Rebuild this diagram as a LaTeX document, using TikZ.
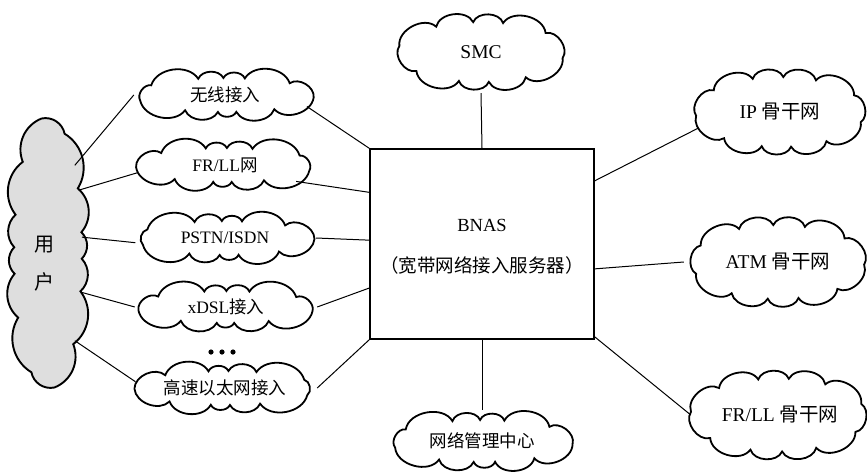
\documentclass[tikz,border=0pt]{standalone}
\usepackage{fontspec}
\setmainfont{Liberation Serif}
\newfontfamily\cjk{Noto Sans CJK SC}
\usetikzlibrary{shapes.geometric,calc}
% \drawcloud{id}{cx}{cy}{outer w}{outer h}{puffs}{inset}{bend}{offset}
\newcommand\drawcloud[9]{%
  \pgfmathsetmacro\cA{#4/2-0.15*#7}%
  \pgfmathsetmacro\cB{#5/2-#7}%
  \pgfmathsetmacro\cK{(\cA-\cB)/(\cA+\cB)}%
  \foreach \i in {0,...,#6}{%
    \pgfmathsetmacro\cU{360*\i/#6+#9}%
    \pgfmathsetmacro\cT{\cU+0.5*\cK*sin(2*\cU)*57.29578}%
    \pgfmathsetmacro\cX{#2+\cA*cos(\cT)}%
    \pgfmathsetmacro\cY{#3+\cB*sin(\cT)}%
    \coordinate (#1-\i) at (\cX,\cY);
  }%
  \path[cloudline,#1style] (#1-0) \foreach \i in {1,...,#6}{ to[bend left=#8] (#1-\i) } -- cycle;
}
\begin{document}
\begin{tikzpicture}[x=1pt,y=-1pt,
  cloudline/.style={draw, line width=1.8pt, line join=miter},
  cloudtext/.style={ellipse, inner sep=0pt, font=\fontsize{17.5}{19}\selectfont},
  bigtext/.style={font=\fontsize{19.5}{21}\selectfont},
  boxnode/.style={draw, line width=1.3pt, minimum width=224pt, minimum height=190pt, inner sep=0pt},
  lbl/.style={font=\fontsize{18.5}{20}\selectfont},
  link/.style={line width=1pt}]
\tikzset{
  smcstyle/.style={}, nmstyle/.style={}, ipstyle/.style={}, atmstyle/.style={}, frbstyle/.style={},
  wxstyle/.style={}, frstyle/.style={}, pstnstyle/.style={}, xdslstyle/.style={}, gsstyle/.style={},
  userstyle/.style={fill=black!13, line width=1.9pt}}
\useasboundingbox (0,0) rectangle (867,474);

% central box
\node[boxnode] (box) at (482,244) {};
\node[lbl] (bnas) at (482,225) {BNAS};
\node[lbl] (bnasz) at (482,265) {\cjk （宽带网络接入服务器）};

% top and bottom clouds
\drawcloud{smc}{481}{52}{170}{82}{10}{11}{70}{8}
\node[cloudtext, bigtext, minimum width=170pt, minimum height=82pt] (smcn) at (481,52) {SMC};
\drawcloud{nm}{482}{441}{186}{62}{11}{10}{70}{5}
\node[cloudtext, minimum width=186pt, minimum height=62pt] (nmn) at (482,441) {\cjk 网络管理中心};

% right clouds
\drawcloud{ip}{780}{112}{172}{92}{11}{11}{70}{12}
\node[cloudtext, bigtext, minimum width=172pt, minimum height=92pt] (ipn) at (780,112) {IP {\cjk 骨干网}};
\drawcloud{atm}{778}{262}{176}{96}{11}{11}{70}{3}
\node[cloudtext, bigtext, minimum width=176pt, minimum height=96pt] (atmn) at (778,262) {ATM {\cjk 骨干网}};
\drawcloud{frb}{778}{415}{178}{95}{11}{11}{70}{20}
\node[cloudtext, bigtext, minimum width=178pt, minimum height=95pt] (frbn) at (780,415) {FR/LL {\cjk 骨干网}};

% left clouds
\drawcloud{wx}{225}{95}{182}{52}{11}{9}{65}{5}
\node[cloudtext, minimum width=182pt, minimum height=52pt] (wxn) at (225,95) {\cjk 无线接入};
\drawcloud{fr}{225}{165}{182}{52}{11}{9}{65}{12}
\node[cloudtext, minimum width=182pt, minimum height=52pt] (frn) at (225,165) {FR/LL{\cjk 网}};
\drawcloud{pstn}{225}{238}{182}{52}{11}{9}{65}{2}
\node[cloudtext, minimum width=182pt, minimum height=52pt] (pstnn) at (225,238) {PSTN/ISDN};
\drawcloud{xdsl}{226}{307}{182}{50}{11}{9}{65}{9}
\node[cloudtext, minimum width=182pt, minimum height=50pt] (xdsln) at (226,307) {xDSL{\cjk 接入}};
\drawcloud{gs}{225}{388}{184}{52}{11}{9}{65}{15}
\node[cloudtext, minimum width=184pt, minimum height=52pt] (gsn) at (225,388) {\cjk 高速以太网接入};

% user cloud
\drawcloud{user}{48}{253}{70}{290}{14}{8}{45}{6}
\node[ellipse, inner sep=0pt, minimum width=68pt, minimum height=282pt] (usern) at (48,253) {};
\node[font=\fontsize{20}{22}\selectfont\cjk] (yong) at (44,245) {用};
\node[font=\fontsize{20}{22}\selectfont\cjk] (hu) at (44,282) {户};

% dots
\fill (211,352) circle (2.6) (222,352) circle (2.6) (233,352) circle (2.6);

% user to access clouds
\draw[link] (usern.73) -- (wxn.west);
\draw[link] (usern.64) -- (frn.185);
\draw[link] (usern.25) -- (pstnn.183);
\draw[link] (usern.310) -- (xdsln.west);
\draw[link] (usern.287) -- (gsn.176);

% access clouds to box
\draw[link] (wxn.352) -- (box.north west);
\draw[link] (frn.347) -- ($(box.north west)!0.23!(box.south west)$);
\draw[link] (pstnn.east) -- ($(box.north west)!0.48!(box.south west)$);
\draw[link] (xdsln.east) -- ($(box.north west)!0.73!(box.south west)$);
\draw[link] (gsn.east) -- (box.south west);

% box to right clouds
\draw[link] ($(box.north east)!0.17!(box.south east)$) -- (ipn.191);
\draw[link] ($(box.north east)!0.63!(box.south east)$) -- ($(atmn.west)+(-6,0)$);
\draw[link] ($(box.north east)!0.985!(box.south east)$) -- (frbn.west);

% top and bottom
\draw[link] (smcn.south) -- (box.north);
\draw[link] (box.south) -- (nmn.north);
\end{tikzpicture}
\end{document}
